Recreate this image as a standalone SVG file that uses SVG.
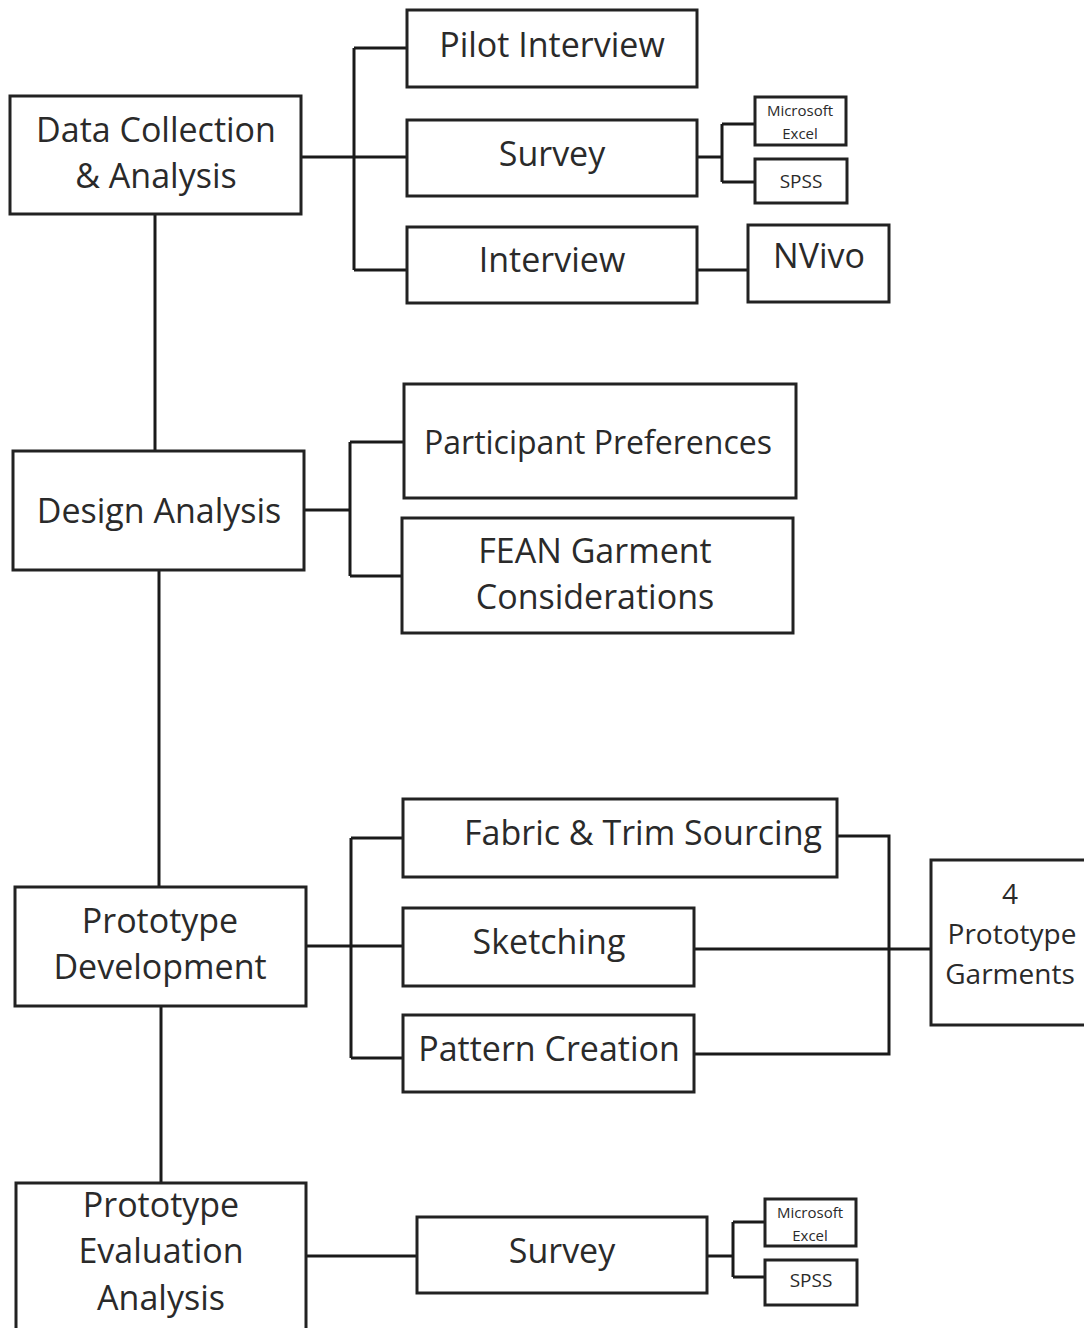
<svg xmlns="http://www.w3.org/2000/svg" width="1084" height="1328" viewBox="0 0 1084 1328">
<style>
rect{fill:#fff;stroke:#222;stroke-width:3}
.c path{fill:none;stroke:#1a1a1a;stroke-width:3}
text{font-family:"Open Sans","Noto Sans",sans-serif;fill:#2a2a2a;text-anchor:middle;dominant-baseline:central}
.b{font-size:34px}
.s{font-size:15px}
.m{font-size:19px}
</style>
<rect x="0" y="0" width="1084" height="1328" style="stroke:none"/>
<g class="c">
<path d="M155 214V451M159 570V887M161 1006V1183"/>
<path d="M301 157H407M354 48V270M354 48H407M354 270H407"/>
<path d="M697 157H722M722 124V182M722 124H755M722 182H755"/>
<path d="M697 270H748"/>
<path d="M304 510H350M350 442V576M350 442H404M350 576H402"/>
<path d="M306 946H403M351 838V1058M351 838H403M351 1058H403"/>
<path d="M837 836H889V1054H694M694 949H931"/>
<path d="M306 1256H417M707 1256H733M733 1222V1277M733 1222H765M733 1277H765"/>
</g>
<g id="n-dca"><rect x="10" y="96" width="291" height="118"/><text class="b" x="156" y="129">Data Collection</text><text class="b" x="156" y="175">&amp; Analysis</text></g>
<g id="n-pilot"><rect x="407" y="10" width="290" height="77"/><text class="b" x="552" y="44">Pilot Interview</text></g>
<g id="n-survey1"><rect x="407" y="120" width="290" height="76"/><text class="b" x="552" y="153">Survey</text></g>
<g id="n-interview"><rect x="407" y="227" width="290" height="76"/><text class="b" x="552" y="259">Interview</text></g>
<g id="n-excel1"><rect x="755" y="97" width="91" height="48"/><text class="s" x="800" y="110">Microsoft</text><text class="s" x="800" y="133">Excel</text></g>
<g id="n-spss1"><rect x="755" y="159" width="92" height="44"/><text class="m" x="801" y="181">SPSS</text></g>
<g id="n-nvivo"><rect x="748" y="225" width="141" height="77"/><text class="b" x="819" y="255">NVivo</text></g>
<g id="n-da"><rect x="13" y="451" width="291" height="119"/><text class="b" x="159" y="510">Design Analysis</text></g>
<g id="n-pp"><rect x="404" y="384" width="392" height="114"/><text class="b" style="font-size:32px" x="598" y="441">Participant Preferences</text></g>
<g id="n-fean"><rect x="402" y="518" width="391" height="115"/><text class="b" x="595" y="550">FEAN Garment</text><text class="b" x="595" y="596">Considerations</text></g>
<g id="n-fabric"><rect x="403" y="799" width="434" height="78"/><text class="b" x="643" y="832">Fabric &amp; Trim Sourcing</text></g>
<g id="n-sketch"><rect x="403" y="908" width="291" height="78"/><text class="b" x="549" y="941">Sketching</text></g>
<g id="n-pattern"><rect x="403" y="1015" width="291" height="77"/><text class="b" x="549" y="1048">Pattern Creation</text></g>
<g id="n-garments"><rect x="931" y="860" width="160" height="165"/><text class="b" style="font-size:28px" x="1010" y="893">4</text><text class="b" style="font-size:28px" x="1012" y="933">Prototype</text><text class="b" style="font-size:28px" x="1010" y="973">Garments</text></g>
<g id="n-pd"><rect x="15" y="887" width="291" height="119"/><text class="b" x="160" y="920">Prototype</text><text class="b" x="160" y="966">Development</text></g>
<g id="n-pea"><rect x="16" y="1183" width="290" height="160"/><text class="b" x="161" y="1204">Prototype</text><text class="b" x="161" y="1250">Evaluation</text><text class="b" x="161" y="1297">Analysis</text></g>
<g id="n-survey2"><rect x="417" y="1217" width="290" height="76"/><text class="b" x="562" y="1250">Survey</text></g>
<g id="n-excel2"><rect x="765" y="1199" width="91" height="47"/><text class="s" x="810" y="1212">Microsoft</text><text class="s" x="810" y="1235">Excel</text></g>
<g id="n-spss2"><rect x="765" y="1260" width="92" height="45"/><text class="m" x="811" y="1280">SPSS</text></g>
</svg>
